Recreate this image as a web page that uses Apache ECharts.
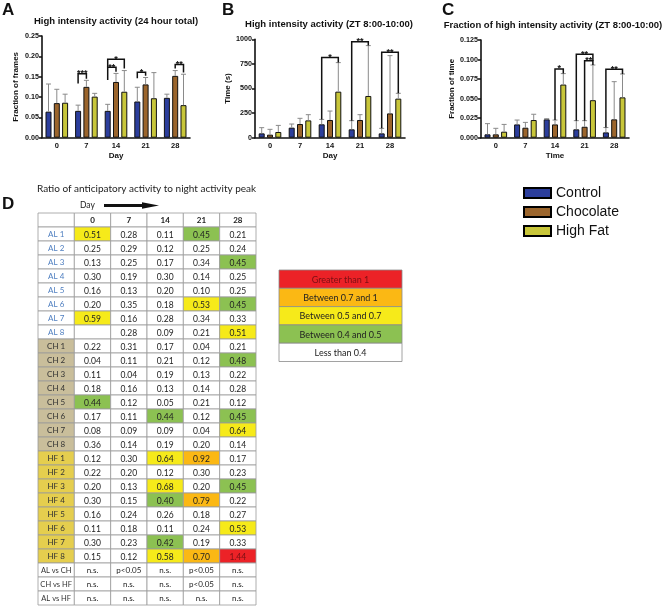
<!DOCTYPE html>
<html><head><meta charset="utf-8">
<script src="https://cdn.jsdelivr.net/npm/echarts@6/dist/echarts.min.js"></script>
<style>html,body{margin:0;padding:0;background:#fff}#c{width:662px;height:609px}</style>
</head><body><div id="c"></div>
<script>
// ---------- data ----------
const days = ['0','7','14','21','28'];
const groups = ['Control','Chocolate','High Fat'];

// Panel A: High intensity activity (24 hour total), fraction of frames
const aCtrl    = [0.064,0.066,0.066,0.089,0.098];
const aCtrlErr = [0.132,0.080,0.082,0.124,0.107];
const aChoc    = [0.085,0.125,0.137,0.131,0.152];
const aChocErr = [0.119,0.141,0.158,0.148,0.165];
const aHF      = [0.086,0.101,0.113,0.097,0.080];
const aHFErr   = [0.107,0.109,0.165,0.160,0.156];
// [dayIndex, groupA, groupB, top, legA bottom, legB bottom]
const aBrackets = [[1,0,1,0.157,0.133,0.145],[2,0,1,0.173,0.142,0.162],[2,0,2,0.193,0.173,0.170],[3,0,1,0.161,0.146,0.152],[4,1,2,0.180,0.170,0.160]];
const aStars = ['***','**','*','*','**'];

// Panel B: High intensity activity (ZT 8:00-10:00), time (s)
const bCtrl    = [44,102,136,85,44];
const bCtrlErr = [102,139,186,173,95];
const bChoc    = [31,139,180,180,247];
const bChocErr = [85,197,271,234,834];
const bHF      = [58,176,468,424,397];
const bHFErr   = [125,234,763,936,451];
const bBrackets = [[2,0,2,814,186,763],[3,0,2,976,173,936],[4,0,2,868,95,451]];
const bStars = ['*','**','**'];

// Panel C: Fraction of high intensity activity (ZT 8:00-10:00)
const cCtrl    = [0.0043,0.0170,0.0235,0.0107,0.0068];
const cCtrlErr = [0.0180,0.0226,0.0243,0.0218,0.0130];
const cChoc    = [0.0043,0.0128,0.0170,0.0140,0.0235];
const cChocErr = [0.0120,0.0196,0.0226,0.0218,0.0717];
const cHF      = [0.0077,0.0226,0.0680,0.0480,0.0516];
const cHFErr   = [0.0170,0.0300,0.0820,0.0930,0.0815];
const cBrackets = [[2,1,2,0.088,0.0226,0.082],[3,0,2,0.1067,0.0218,0.0985],[3,1,2,0.0985,0.0218,0.093],[4,0,2,0.0875,0.013,0.0815]];
const cStars = ['*','**','**','**'];

// Panel D: ratio table
const rowLabels = ['AL 1','AL 2','AL 3','AL 4','AL 5','AL 6','AL 7','AL 8',
                   'CH 1','CH 2','CH 3','CH 4','CH 5','CH 6','CH 7','CH 8',
                   'HF 1','HF 2','HF 3','HF 4','HF 5','HF 6','HF 7','HF 8'];
const ratios = [
  [0.51,0.28,0.11,0.45,0.21],[0.25,0.29,0.12,0.25,0.24],[0.13,0.25,0.17,0.34,0.45],[0.30,0.19,0.30,0.14,0.25],
  [0.16,0.13,0.20,0.10,0.25],[0.20,0.35,0.18,0.53,0.45],[0.59,0.16,0.28,0.34,0.33],[null,0.28,0.09,0.21,0.51],
  [0.22,0.31,0.17,0.04,0.21],[0.04,0.11,0.21,0.12,0.48],[0.11,0.04,0.19,0.13,0.22],[0.18,0.16,0.13,0.14,0.28],
  [0.44,0.12,0.05,0.21,0.12],[0.17,0.11,0.44,0.12,0.45],[0.08,0.09,0.09,0.04,0.64],[0.36,0.14,0.19,0.20,0.14],
  [0.12,0.30,0.64,0.92,0.17],[0.22,0.20,0.12,0.30,0.23],[0.20,0.13,0.68,0.20,0.45],[0.30,0.15,0.40,0.79,0.22],
  [0.16,0.24,0.26,0.18,0.27],[0.11,0.18,0.11,0.24,0.53],[0.30,0.23,0.42,0.19,0.33],[0.15,0.12,0.58,0.70,1.44]
];
const statLabels = ['AL vs CH','CH vs HF','AL vs HF'];
const statValues = [
  ['n.s.','p<0.05','n.s.','p<0.05','n.s.'],
  ['n.s.','n.s.','n.s.','p<0.05','n.s.'],
  ['n.s.','n.s.','n.s.','n.s.','n.s.']
];
const rangeLabels = ['Greater than 1','Between 0.7 and 1','Between 0.5 and 0.7','Between 0.4 and 0.5','Less than 0.4'];

// ---------- styles ----------
const COLORS = ['#2c3e9c','#9b652c','#c8c63a'];
const RANGE_COLORS = ['#ec2227','#fbb814','#f6ea1a','#8cc152','#ffffff'];
const RANGE_TEXT = ['#7a1014','#222','#222','#222','#222'];
const BAR_W = 6, STEP = 8.3;
const AX = '#111';

function errData(vals, errs){
  const out=[];
  vals.forEach((g,gi)=>g.forEach((v,i)=>out.push([i,gi,v,errs[gi][i]])));
  return out;
}
function errItem(params, api){
  const ci = api.value(0), g = api.value(1);
  const base = api.coord([ci, api.value(2)]);
  const top = api.coord([ci, api.value(3)]);
  const x = base[0] + (g-1)*STEP;
  return {type:'group', children:[
    {type:'line', shape:{x1:x,y1:base[1],x2:x,y2:top[1]}, style:{stroke:'#8a8a8a', lineWidth:1}},
    {type:'line', shape:{x1:x-2.5,y1:top[1],x2:x+2.5,y2:top[1]}, style:{stroke:'#8a8a8a', lineWidth:1}}
  ]};
}
function bracketItem(labels){
  return function(params, api){
    const ci = api.value(0), ga = api.value(1), gb = api.value(2);
    const top = api.coord([ci, api.value(3)])[1];
    const la = api.coord([ci, api.value(4)])[1];
    const lb = api.coord([ci, api.value(5)])[1];
    const cx = api.coord([ci, 0])[0];
    const xa = cx + (ga-1)*STEP, xb = cx + (gb-1)*STEP;
    return {type:'group', children:[
      {type:'polyline', shape:{points:[[xa,la],[xa,top],[xb,top],[xb,lb]]}, style:{stroke:'#111', lineWidth:1.5, fill:null}},
      {type:'text', x:(xa+xb)/2, y:top+4.5, style:{text:labels[params.dataIndex], align:'center', verticalAlign:'bottom', font:'bold 9px Arial', fill:'#111'}}
    ]};
  };
}

const grids = [
  {left:42, top:36, width:148, height:101.7},
  {left:255, top:39.3, width:150, height:98.4},
  {left:481, top:40, width:148, height:97.7},
  {left:38, top:213, width:218, height:392},
  {left:279, top:270, width:123, height:91.5}
];

function xAx(gi, name){
  return {gridIndex:gi, type:'category', data:days, name, nameLocation:'middle', nameGap:14,
    nameTextStyle:{fontFamily:'Arial', fontWeight:'bold', fontSize:8, color:AX},
    axisLine:{lineStyle:{color:AX, width:1.6}},
    axisTick:{alignWithLabel:true, length:3, lineStyle:{color:AX, width:1.5}},
    axisLabel:{fontFamily:'Arial', fontWeight:'bold', fontSize:7.5, color:AX, margin:4}};
}
function yAx(gi, max, interval, name, dec, nameGap){
  return {gridIndex:gi, type:'value', min:0, max, interval, name, nameLocation:'middle', nameGap, nameRotate:90,
    nameTextStyle:{fontFamily:'Arial', fontWeight:'bold', fontSize:8, color:AX},
    axisLine:{show:true, lineStyle:{color:AX, width:1.6}},
    axisTick:{show:true, length:3, lineStyle:{color:AX, width:1.5}},
    axisLabel:{fontFamily:'Arial', fontWeight:'bold', fontSize:7.2, color:AX, margin:3, formatter:v=>v.toFixed(dec)},
    splitLine:{show:false}};
}

const series = [];
function addPanel(gi, vals, errs, brackets, stars){
  vals.forEach((arr, k)=>{
    series.push({type:'bar', name:groups[k], xAxisIndex:gi, yAxisIndex:gi, data:arr, barWidth:BAR_W,
      barGap:((STEP-BAR_W)/BAR_W*100).toFixed(1)+'%',
      itemStyle:{color:COLORS[k], borderColor:'#111', borderWidth:1}, emphasis:{disabled:true}});
  });
  series.push({type:'custom', xAxisIndex:gi, yAxisIndex:gi, data:errData(vals, errs), renderItem:errItem, z:3, silent:true});
  series.push({type:'custom', xAxisIndex:gi, yAxisIndex:gi, data:brackets, renderItem:bracketItem(stars), z:4, silent:true});
}
addPanel(0, [aCtrl,aChoc,aHF], [aCtrlErr,aChocErr,aHFErr], aBrackets, aStars);
addPanel(1, [bCtrl,bChoc,bHF], [bCtrlErr,bChocErr,bHFErr], bBrackets, bStars);
addPanel(2, [cCtrl,cChoc,cHF], [cCtrlErr,cChocErr,cHFErr], cBrackets, cStars);

// ---------- table cells ----------
const tableRows = [''].concat(rowLabels, statLabels);
const tableCols = [''].concat(days);
const cells = [];
const cellData = [];
function pushCell(c, r, text, fill, color, font){ cells.push({text, fill, color, font}); cellData.push([c, r]); }
const F = 'Lato, "Open Sans", sans-serif';
tableCols.forEach((d, c)=> pushCell(c, 0, d, '#fff', '#222', 'bold 8px '+F));
rowLabels.forEach((lab, i)=>{
  const r = i+1;
  const grp = lab.slice(0,2);
  const hdrFill = grp==='AL' ? '#ffffff' : grp==='CH' ? '#c9be9b' : '#e5ce4e';
  const hdrColor = grp==='AL' ? '#4f7fc0' : '#333';
  pushCell(0, r, lab, hdrFill, hdrColor, '8px '+F);
  ratios[i].forEach((v, c)=>{
    if (v === null) { pushCell(c+1, r, '', '#fff', '#222', '8px '+F); return; }
    const k = v>1 ? 0 : v>=0.7 ? 1 : v>=0.5 ? 2 : v>=0.4 ? 3 : 4;
    pushCell(c+1, r, v.toFixed(2), RANGE_COLORS[k], RANGE_TEXT[k], '8.5px '+F);
  });
});
statLabels.forEach((lab, i)=>{
  const r = rowLabels.length+1+i;
  pushCell(0, r, lab, '#fff', '#333', '7.5px '+F);
  statValues[i].forEach((v, c)=> pushCell(c+1, r, v, '#fff', '#222', '8px '+F));
});
function cellItem(params, api){
  const cell = cells[params.dataIndex];
  const p = api.coord([api.value(0), api.value(1)]);
  const s = api.size([1,1]);
  return {type:'group', children:[
    {type:'rect', shape:{x:p[0]-s[0]/2, y:p[1]-s[1]/2, width:s[0], height:s[1]}, style:{fill:cell.fill, stroke:'#9a9a9a', lineWidth:0.8}},
    {type:'text', x:p[0], y:p[1]+0.8, style:{text:cell.text, align:'center', verticalAlign:'middle', font:cell.font, fill:cell.color}}
  ]};
}
series.push({type:'custom', xAxisIndex:3, yAxisIndex:3, data:cellData, renderItem:cellItem, silent:true});

const legCells = rangeLabels.map((t,i)=>[0,i]);
function legItem(params, api){
  const i = params.dataIndex;
  const p = api.coord([api.value(0), api.value(1)]);
  const s = api.size([1,1]);
  return {type:'group', children:[
    {type:'rect', shape:{x:p[0]-s[0]/2, y:p[1]-s[1]/2, width:s[0], height:s[1]}, style:{fill:RANGE_COLORS[i], stroke:'#8a8a8a', lineWidth:0.8}},
    {type:'text', x:p[0], y:p[1]+0.8, style:{text:rangeLabels[i], align:'center', verticalAlign:'middle', font:'9px '+F, fill:RANGE_TEXT[i]}}
  ]};
}
series.push({type:'custom', xAxisIndex:4, yAxisIndex:4, data:legCells, renderItem:legItem, silent:true});

const hiddenCat = (gi, data, inverse)=>({gridIndex:gi, type:'category', data, show:false, inverse:!!inverse});

const titleFont = {fontFamily:'Arial', fontWeight:'bold', fontSize:9.5, color:'#111'};
const letterFont = {fontFamily:'Arial', fontWeight:'bold', fontSize:17, color:'#111'};
const option = {
  animation:false,
  backgroundColor:'#fff',
  title:[
    {text:'A', left:2, top:2, textStyle:letterFont, padding:0},
    {text:'B', left:222, top:2, textStyle:letterFont, padding:0},
    {text:'C', left:442, top:2, textStyle:letterFont, padding:0},
    {text:'D', left:2, top:196, textStyle:letterFont, padding:0},
    {text:'High intensity activity (24 hour total)', left:116, top:16, textAlign:'center', textStyle:titleFont, padding:0},
    {text:'High intensity activity (ZT 8:00-10:00)', left:329, top:19, textAlign:'center', textStyle:titleFont, padding:0},
    {text:'Fraction of high intensity activity (ZT 8:00-10:00)', left:553, top:20, textAlign:'center', textStyle:titleFont, padding:0},
    {text:'Ratio of anticipatory activity to night activity peak', left:37, top:184, textStyle:{fontFamily:F, fontSize:10, fontWeight:'normal', color:'#222'}, padding:0},
    {text:'Day', left:80, top:201, textStyle:{fontFamily:F, fontSize:8.5, fontWeight:'normal', color:'#222'}, padding:0}
  ],
  legend:{data:groups, orient:'vertical', left:518, top:181, itemWidth:27, itemHeight:10, itemGap:5, icon:'rect',
    selectedMode:false, textStyle:{fontFamily:'Arial', fontSize:14, color:'#111'},
    itemStyle:{borderColor:'#000', borderWidth:2}},
  graphic:[
    {type:'line', shape:{x1:104, y1:205.5, x2:146, y2:205.5}, style:{stroke:'#111', lineWidth:3}},
    {type:'polygon', shape:{points:[[142,202.3],[159,205.5],[142,208.7]]}, style:{fill:'#111'}}
  ],
  grid:grids,
  xAxis:[xAx(0,'Day'), xAx(1,'Day'), xAx(2,'Time'), hiddenCat(3, tableCols), hiddenCat(4, [''])],
  yAxis:[yAx(0,0.25,0.05,'Fraction of frames',2,22), yAx(1,1000,250,'Time (s)',0,21), yAx(2,0.125,0.025,'Fraction of time',3,23.5),
         hiddenCat(3, tableRows, true), hiddenCat(4, rangeLabels, true)],
  series
};
const chart = echarts.init(document.getElementById('c'));
chart.setOption(option);
</script>
</body></html>
